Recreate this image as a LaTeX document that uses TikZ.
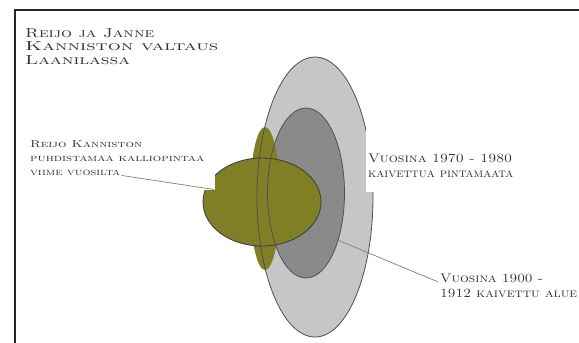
\documentclass[tikz,border=0pt]{standalone}
\usepackage{graphicx}
\definecolor{lightg}{RGB}{198,198,198}
\definecolor{darkg}{RGB}{138,138,138}
\definecolor{olivegreen}{RGB}{128,127,38}
\definecolor{txt}{RGB}{48,48,48}
\definecolor{edge}{RGB}{80,80,80}
\definecolor{leader}{RGB}{130,130,120}
\newcommand{\wl}[2]{\resizebox{#1pt}{\height}{\textsc{#2}}}
\begin{document}
\begin{tikzpicture}[x=1pt,y=-1pt,
  line/.style={anchor=base west, inner sep=0pt, text=txt},
  ttl/.style={line, font=\fontsize{13}{15}\selectfont},
  lbsmall/.style={line, font=\fontsize{10}{12}\selectfont},
  lbbig/.style={line, font=\fontsize{12.5}{14}\selectfont},
  outline/.style={draw=edge, line width=0.8pt},
  leaderline/.style={draw=leader, line width=0.7pt}]
\useasboundingbox (0,0) rectangle (579,343);
\fill[white] (0,0) rectangle (579,343);

% ellipse fills
\fill[lightg] (315,197) ellipse [x radius=58, y radius=140];
\fill[darkg] (306,193) ellipse [x radius=38.5, y radius=85];
\fill[olivegreen] (265,198.5) ellipse [x radius=15, y radius=71.5];
\filldraw[fill=olivegreen, draw=black!75, line width=0.9pt] (262,202) ellipse [x radius=59, y radius=44];
% outlines of the grey ellipses, visible through the green
\draw[outline] (315,197) ellipse [x radius=58, y radius=140];
\draw[outline] (306,193) ellipse [x radius=38.5, y radius=85];

% white text boxes that cut the shapes
\fill[white] (22,130) rectangle (215,190);
\fill[white] (365.5,130) rectangle (520,192);

% title
\node[ttl] (t1) at (25,37) {\wl{129}{Reijo ja Janne}};
\node[ttl] (t2) at (25,50.5) {\wl{193}{Kanniston valtaus}};
\node[ttl] (t3) at (25,64) {\wl{105}{Laanilassa}};

% label 1
\node[lbsmall] (a1) at (30,147) {\wl{112}{Reijo Kanniston}};
\node[lbsmall] (a2) at (30,161.5) {\wl{174}{puhdistamaa kalliopintaa}};
\node[lbsmall] (a3) at (30,175) {\wl{90}{viime vuosilta}};

% label 2
\node[lbbig] (b1) at (368,162) {\wl{144}{Vuosina 1970 - 1980}};
\node[lbbig] (b2) at (368,177) {\wl{145}{kaivettua pintamaata}};

% label 3
\node[lbbig] (c1) at (440,282) {\wl{103}{Vuosina 1900 -}};
\node[lbbig] (c2) at (440,297) {\wl{137}{1912 kaivettu alue}};

% leaders
\coordinate (notch) at (214,189.5);
\coordinate (darkedge) at (337.5,240);
\draw[leaderline] ([xshift=1pt,yshift=-3pt]a3.east) -- (notch);
\draw[leaderline] (darkedge) -- ([xshift=-2pt,yshift=-4pt]c1.west);

% frame
\draw[line width=2.5pt, color=black!85] (15,343) -- (15,10) -- (579,10);
\end{tikzpicture}
\end{document}
